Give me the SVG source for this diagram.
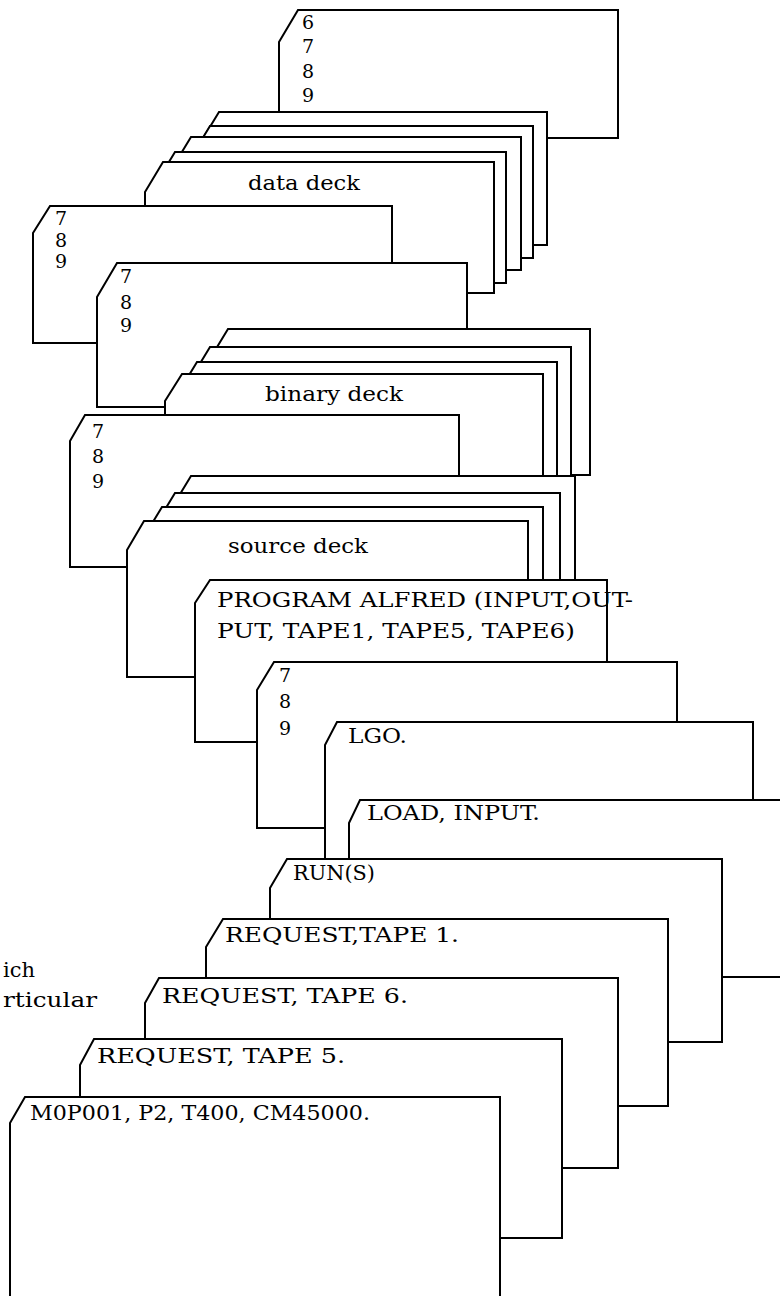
<svg xmlns="http://www.w3.org/2000/svg" width="780" height="1296" viewBox="0 0 780 1296">
<style>
.card{fill:#fff;stroke:#000;stroke-width:2;stroke-linejoin:miter}
text{font-family:"DejaVu Serif","Liberation Serif",serif;font-size:20px;fill:#000}
.d{font-size:19px}
</style>
<rect x="0" y="0" width="780" height="1296" fill="#fff"/>
<g id="card-6789">
<path class="card" d="M298,10 H618 V138 H279 V42 Z"/>
<text class="d" x="302" y="29">6</text>
<text class="d" x="302" y="53">7</text>
<text class="d" x="302" y="78">8</text>
<text class="d" x="302" y="102">9</text>
</g>
<g id="data-deck">
<path class="card" d="M219,112 H547 V245 H202 V140 Z"/>
<path class="card" d="M210,126 H533 V258 H193 V154 Z"/>
<path class="card" d="M191,137 H521 V270 H174 V165 Z"/>
<path class="card" d="M175,152 H506 V283 H158 V180 Z"/>
<path class="card" d="M163,162 H494 V293 H145 V192 Z"/>
<text x="248" y="190" textLength="112" lengthAdjust="spacingAndGlyphs">data deck</text>
</g>
<g id="card-789-a">
<path class="card" d="M50,206 H392 V343 H33 V233 Z"/>
<text class="d" x="55" y="225">7</text>
<text class="d" x="55" y="247">8</text>
<text class="d" x="55" y="268">9</text>
</g>
<g id="card-789-b">
<path class="card" d="M117,263 H467 V407 H97 V297 Z"/>
<text class="d" x="120" y="283">7</text>
<text class="d" x="120" y="309">8</text>
<text class="d" x="120" y="332">9</text>
</g>
<g id="binary-deck">
<path class="card" d="M228,329 H590 V475 H211 V357 Z"/>
<path class="card" d="M210,347 H571 V490 H193 V375 Z"/>
<path class="card" d="M197,362 H557 V490 H180 V390 Z"/>
<path class="card" d="M182,374 H543 V490 H165 V401 Z"/>
<text x="265" y="401" textLength="138" lengthAdjust="spacingAndGlyphs">binary deck</text>
</g>
<g id="card-789-c">
<path class="card" d="M85,415 H459 V567 H70 V441 Z"/>
<text class="d" x="92" y="438">7</text>
<text class="d" x="92" y="463">8</text>
<text class="d" x="92" y="488">9</text>
</g>
<g id="source-deck">
<path class="card" d="M191,476 H575 V590 H174 V504 Z"/>
<path class="card" d="M175,493 H560 V590 H158 V521 Z"/>
<path class="card" d="M162,507 H543 V590 H145 V535 Z"/>
<path class="card" d="M144,521 H528 V677 H127 V550 Z"/>
<text x="228" y="553" textLength="140" lengthAdjust="spacingAndGlyphs">source deck</text>
</g>
<g id="card-program">
<path class="card" d="M210,580 H607 V742 H195 V603 Z"/>
<text x="217" y="607" textLength="416" lengthAdjust="spacingAndGlyphs">PROGRAM ALFRED (INPUT,OUT-</text>
<text x="217" y="638" textLength="358" lengthAdjust="spacingAndGlyphs">PUT, TAPE1, TAPE5, TAPE6)</text>
</g>
<g id="card-789-d">
<path class="card" d="M274,662 H677 V828 H257 V690 Z"/>
<text class="d" x="279" y="682">7</text>
<text class="d" x="279" y="708">8</text>
<text class="d" x="279" y="735">9</text>
</g>
<g id="card-lgo">
<path class="card" d="M337,722 H753 V880 H325 V745 Z"/>
<text x="348" y="743" textLength="59" lengthAdjust="spacingAndGlyphs">LGO.</text>
</g>
<g id="card-load">
<path class="card" d="M360,800 H800 V977 H349 V823 Z"/>
<text x="367" y="820" textLength="173" lengthAdjust="spacingAndGlyphs">LOAD, INPUT.</text>
</g>
<g id="card-run">
<path class="card" d="M287,859 H722 V1042 H270 V888 Z"/>
<text x="293" y="880" textLength="82" lengthAdjust="spacingAndGlyphs">RUN(S)</text>
</g>
<g id="card-request-1">
<path class="card" d="M223,919 H668 V1106 H206 V947 Z"/>
<text x="225" y="942" textLength="234" lengthAdjust="spacingAndGlyphs">REQUEST,TAPE 1.</text>
</g>
<g id="card-request-6">
<path class="card" d="M159,978 H618 V1168 H145 V1003 Z"/>
<text x="162" y="1003" textLength="246" lengthAdjust="spacingAndGlyphs">REQUEST, TAPE 6.</text>
</g>
<g id="card-request-5">
<path class="card" d="M94,1039 H562 V1238 H80 V1065 Z"/>
<text x="97" y="1063" textLength="248" lengthAdjust="spacingAndGlyphs">REQUEST, TAPE 5.</text>
</g>
<g id="card-job">
<path class="card" d="M25,1097 H500 V1310 H10 V1123 Z"/>
<text x="30" y="1120" textLength="340" lengthAdjust="spacingAndGlyphs">M0P001, P2, T400, CM45000.</text>
</g>
<g id="side-text">
<text x="3" y="977" textLength="32" lengthAdjust="spacingAndGlyphs">ich</text>
<text x="3" y="1007" textLength="94" lengthAdjust="spacingAndGlyphs">rticular</text>
</g>
<g id="connectors"/>
</svg>
